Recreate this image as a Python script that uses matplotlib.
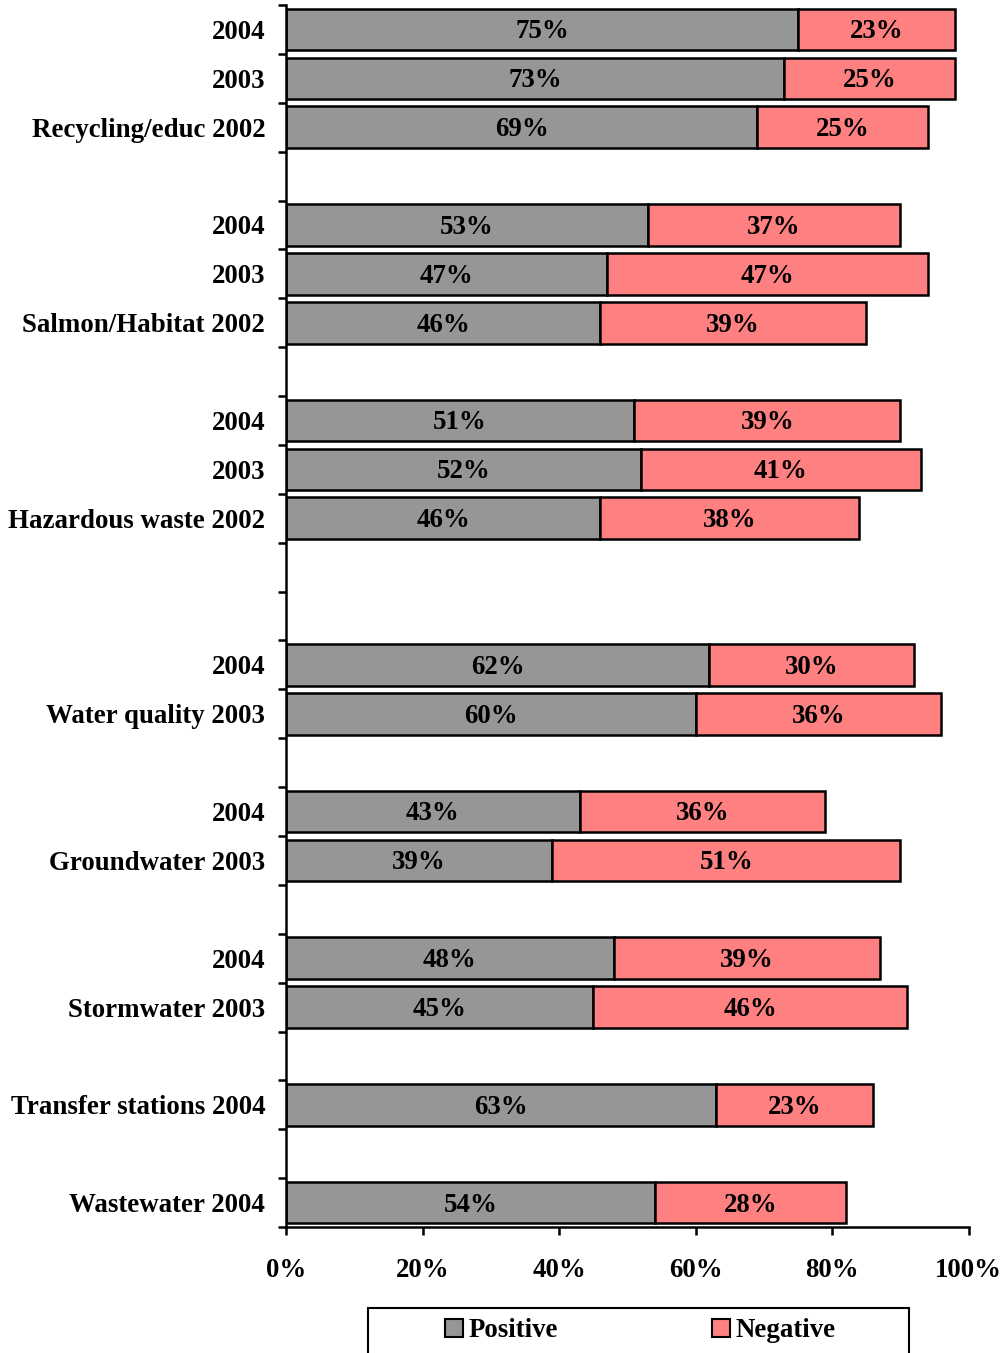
import matplotlib.pyplot as plt
from matplotlib.patches import Rectangle, Patch

plt.rcParams['font.family'] = ['Liberation Serif', 'DejaVu Serif']
plt.rcParams['font.weight'] = 'bold'

# One entry per row slot, top to bottom; None marks an empty spacer slot
labels = ['2004', '2003', 'Recycling/educ 2002', None,
          '2004', '2003', 'Salmon/Habitat 2002', None,
          '2004', '2003', 'Hazardous waste 2002', None, None,
          '2004', 'Water quality 2003', None,
          '2004', 'Groundwater 2003', None,
          '2004', 'Stormwater 2003', None,
          'Transfer stations 2004', None,
          'Wastewater 2004']
positive = [75, 73, 69, None, 53, 47, 46, None, 51, 52, 46, None, None,
            62, 60, None, 43, 39, None, 48, 45, None, 63, None, 54]
negative = [23, 25, 25, None, 37, 47, 39, None, 39, 41, 38, None, None,
            30, 36, None, 36, 51, None, 39, 46, None, 23, None, 28]

pos_color = '#969696'
neg_color = '#FF8080'
fs = 19.4

fig = plt.figure(figsize=(10.07, 13.53), dpi=100)
ax = fig.add_axes([0.284, 0.0931, 0.678, 0.9032])

n = len(labels)
rows = [i for i in range(n) if labels[i] is not None]
ys = [i + 0.5 for i in rows]
pos = [positive[i] for i in rows]
neg = [negative[i] for i in rows]

ax.barh(ys, pos, height=0.85, color=pos_color, edgecolor='black', linewidth=1.8)
ax.barh(ys, neg, left=pos, height=0.85, color=neg_color, edgecolor='black', linewidth=1.8)

for y, p, q in zip(ys, pos, neg):
    ax.text(p / 2, y + 0.05, f'{p}%', ha='center', va='center', fontsize=fs, fontweight='bold')
    ax.text(p + q / 2, y + 0.05, f'{q}%', ha='center', va='center', fontsize=fs, fontweight='bold')

ax.set_ylim(n, 0)
ax.set_xlim(0, 100)

# slot labels at the centres, tick marks on the slot boundaries
ax.set_yticks(ys)
ax.set_yticklabels([labels[i] for i in rows], fontsize=fs, fontweight='bold')
ax.set_yticks(range(n + 1), minor=True)
ax.tick_params(axis='y', which='major', length=0, pad=15)
ax.tick_params(axis='y', which='minor', length=6, width=1.8, direction='out')

ax.set_xticks(range(0, 101, 20))
ax.set_xticklabels([f'{v}%' for v in range(0, 101, 20)], fontsize=fs, fontweight='bold')
ax.tick_params(axis='x', length=6, width=1.8, direction='out', pad=16)

for side in ['top', 'right']:
    ax.spines[side].set_visible(False)
for side in ['left', 'bottom']:
    ax.spines[side].set_linewidth(1.8)

# legend frame
fig.patches.append(Rectangle((0.3655, -0.01), 0.537, 0.043, transform=fig.transFigure,
                             facecolor='white', edgecolor='black', linewidth=1.5))
handles = [Patch(facecolor=pos_color, edgecolor='black', linewidth=1.5, label='Positive'),
           Patch(facecolor=neg_color, edgecolor='black', linewidth=1.5, label='Negative')]
fig.legend(handles=handles, loc='center', bbox_to_anchor=(0.636, 0.0163), ncol=2,
           frameon=False, prop={'size': fs, 'weight': 'bold'},
           handlelength=0.67, handleheight=0.67, handletextpad=0.2, columnspacing=5.7)

fig.savefig('out.png', dpi=100)
